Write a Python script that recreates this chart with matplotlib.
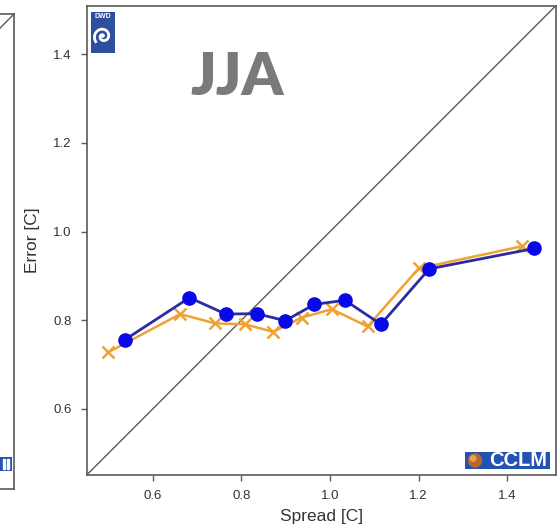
import numpy as np
import matplotlib
matplotlib.use("Agg")
import matplotlib.pyplot as plt
from matplotlib.patches import Rectangle, Circle

plt.rcParams['font.family'] = ['Liberation Sans', 'DejaVu Sans']

# spread vs error per bin, JJA
spread_blue = [0.537, 0.683, 0.765, 0.835, 0.899, 0.965, 1.034, 1.115, 1.224, 1.461]
error_blue = [0.756, 0.851, 0.814, 0.815, 0.799, 0.836, 0.845, 0.791, 0.916, 0.962]
spread_orange = [0.500, 0.662, 0.741, 0.808, 0.872, 0.936, 1.004, 1.085, 1.200, 1.433]
error_orange = [0.728, 0.814, 0.793, 0.791, 0.774, 0.806, 0.825, 0.786, 0.917, 0.967]

xticks = [0.6, 0.8, 1.0, 1.2, 1.4]
yticks = [0.6, 0.8, 1.0, 1.2, 1.4]
lims = (0.451, 1.509)

W, H = 557, 531
fig = plt.figure(figsize=(W / 100, H / 100), dpi=100)
fig.patch.set_facecolor('white')

frame_col = '#5a5a5a'


def px_axes(x0, y0, x1, y1, **kw):
    # axes from pixel box (top-left origin)
    return fig.add_axes([x0 / W, (H - y1) / H, (x1 - x0) / W, (y1 - y0) / H], **kw)


def cclm_logo(x0, y0, x1, y1, label=True):
    lg = px_axes(x0, y0, x1, y1)
    lg.set_xlim(0, x1 - x0)
    lg.set_ylim(0, y1 - y0)
    lg.axis('off')
    lg.add_patch(Rectangle((0, 0), x1 - x0, y1 - y0, color='#2452b0'))
    hgt = y1 - y0
    if label:
        lg.add_patch(Circle((10, hgt / 2), hgt * 0.38, color='#b8682e'))
        lg.add_patch(Circle((8, hgt / 2 + 2), hgt * 0.16, color='#e8a050'))
        lg.text((x1 - x0) * 0.63, hgt / 2, 'CCLM', color='white', fontsize=14.5,
                fontweight='bold', ha='center', va='center')
    else:
        # only the tail of the lettering shows
        lg.add_patch(Rectangle((x1 - x0 - 9, 2), 2.2, hgt - 4, color='white'))
        lg.add_patch(Rectangle((x1 - x0 - 4.5, 2), 2.2, hgt - 4, color='white'))


# neighbouring panel, only its right edge is visible
axl = px_axes(-454, 14, 14, 489)
axl.set_xlim(lims)
axl.set_ylim(lims)
axl.plot([0, 1], [0, 1], transform=axl.transAxes, color=frame_col, lw=1.0)
axl.set_xticks([])
axl.set_yticks([])
for s in axl.spines.values():
    s.set_color(frame_col)
    s.set_linewidth(1.2)
cclm_logo(-73, 457, 11.7, 471, label=False)

# main panel
ax = px_axes(86.7, 6, 555.5, 475)
ax.set_xlim(lims)
ax.set_ylim(lims)
ax.plot([0, 1], [0, 1], transform=ax.transAxes, color=frame_col, lw=1.0, zorder=1)
ax.plot(spread_orange, error_orange, color='#efa232', lw=1.8, marker='x',
        markersize=9, mew=1.8, zorder=2)
ax.plot(spread_blue, error_blue, color='#2c2ca0', lw=2.0, marker='o',
        markersize=9.5, markerfacecolor='#0808e8', markeredgecolor='#0808e8', zorder=3)

ax.set_xticks(xticks)
ax.set_yticks(yticks)
ax.set_xticklabels([f'{v:.1f}' for v in xticks])
ax.set_yticklabels([f'{v:.1f}' for v in yticks])
ax.tick_params(direction='out', length=4, width=1.0, color=frame_col,
               labelsize=9.5, labelcolor='#333333', pad=7)
for s in ax.spines.values():
    s.set_color(frame_col)
    s.set_linewidth(1.2)

ax.set_xlabel('Spread [C]', fontsize=12.5, color='#333333', labelpad=5)
ax.set_ylabel('Error [C]', fontsize=12.5, color='#333333', labelpad=9)

ax.text(0.3206, 0.811, 'JJA', transform=ax.transAxes, fontsize=42.5,
        fontweight='heavy', color='#7a7a7a', ha='center', va='baseline',
        family=['Lato', 'DejaVu Sans'])

# DWD logo
dl = px_axes(90.7, 11.7, 115.3, 53.3)
dl.set_xlim(0, 24.6)
dl.set_ylim(0, 41.6)
dl.axis('off')
dl.add_patch(Rectangle((0, 0), 24.6, 41.6, color='#2d4f9e'))
dl.text(12.3, 36.5, 'DWD', color='white', fontsize=5, fontweight='bold',
        ha='center', va='center')
th = np.linspace(0, 3.2 * np.pi, 200)
r = 0.9 * th
dl.plot(12.3 + r * np.cos(th), 17.0 + r * np.sin(th), color='white', lw=2.0)

cclm_logo(465, 452, 550, 469)

fig.savefig('out.png', dpi=100)
